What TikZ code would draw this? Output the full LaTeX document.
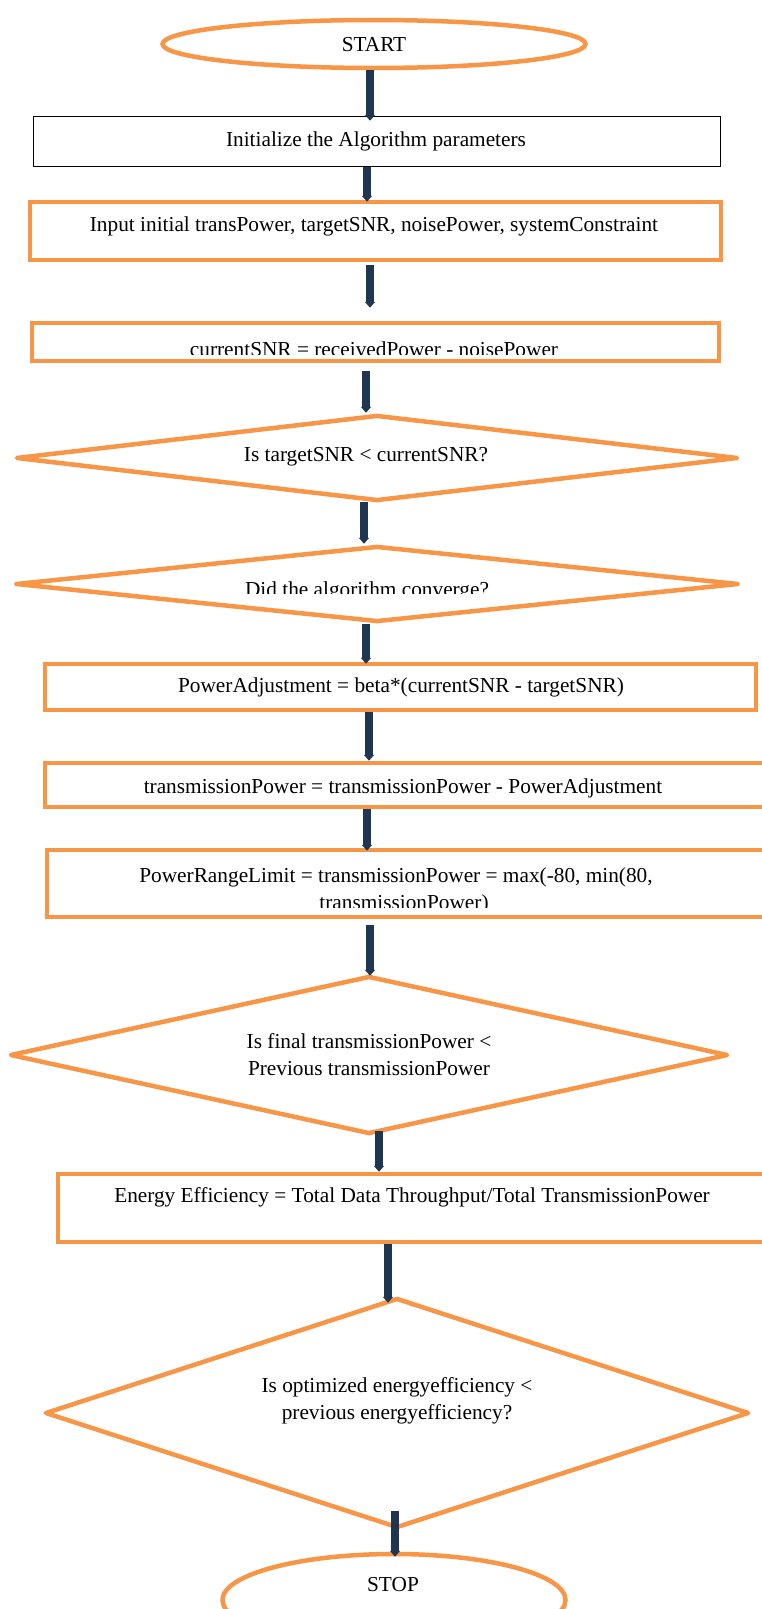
\documentclass[tikz,border=0pt]{standalone}
\usepackage{fontspec}
\setmainfont{Liberation Serif}
\usetikzlibrary{shapes.geometric,arrows.meta}
\definecolor{orng}{HTML}{F79646}
\definecolor{navy}{HTML}{1F3652}
\begin{document}
\begin{tikzpicture}[x=1pt,y=-1pt,
  obox/.style={draw=orng,line width=4.5pt,rectangle,inner sep=0pt},
  kbox/.style={draw=black,line width=1.5pt,rectangle,inner sep=0pt},
  dia/.style={draw=orng,line width=4.5pt,line join=round,diamond,inner sep=0pt},
  term/.style={draw=orng,line width=4.5pt,ellipse,inner sep=0pt},
  txt/.style={font=\fontsize{21.3}{27}\selectfont,inner sep=0pt,align=center},
  arr/.style={draw=navy,line width=7.5pt,-{Triangle[width=10pt,length=6pt]}}]
\useasboundingbox (0,0) rectangle (762,1609);
\fill[white] (0,0) rectangle (762,1609);

% shapes
\node[term,minimum width=423,minimum height=48] (start) at (374,44) {};
\node[txt] (tstart) at (374,45) {START};

\node[kbox,minimum width=687,minimum height=50] (init) at (377,141.5) {};
\node[txt] (tinit) at (376,141) {Initialize the Algorithm parameters};

\node[obox,minimum width=691,minimum height=58] (input) at (375.5,231) {};
\node[txt] (tinput) at (374,226) {Input initial transPower, targetSNR, noisePower, systemConstraint};

\node[obox,minimum width=687,minimum height=38] (csnr) at (375.5,342) {};
\begin{scope}
  \clip (30,300) rectangle (721,354);
  \node[txt,anchor=base] (tcsnr) at (374,356) {currentSNR = receivedPower - noisePower};
\end{scope}

\node[dia,minimum width=722,minimum height=86] (d1) at (377,458) {};
\node[txt] (td1) at (366,457) {Is targetSNR < currentSNR?};

\node[dia,minimum width=723,minimum height=76] (d2) at (377,584) {};
\begin{scope}
  \clip (14,540) rectangle (741,593);
  \node[txt,anchor=base] (td2) at (367,596) {Did the algorithm converge?};
\end{scope}

\node[obox,minimum width=711,minimum height=46] (padj) at (400.5,687) {};
\node[txt] (tpadj) at (401,687) {PowerAdjustment = beta*(currentSNR - targetSNR)};

\node[obox,minimum width=745,minimum height=44] (tpow) at (417.5,785) {};
\node[txt] (ttpow) at (403,788) {transmissionPower = transmissionPower - PowerAdjustment};

\node[obox,minimum width=743,minimum height=67] (prl) at (418.5,883.5) {};
\node[txt,anchor=base] (tprla) at (396,882) {PowerRangeLimit = transmissionPower = max(-80, min(80,};
\begin{scope}
  \clip (47,860) rectangle (790,907);
  \node[txt,anchor=base] (tprlb) at (404,909) {transmissionPower)};
\end{scope}

\node[dia,minimum width=718,minimum height=158] (d3) at (369,1055) {};
\node[txt] (td3) at (369,1055) {Is final transmissionPower <\\Previous transmissionPower};

\node[obox,minimum width=732,minimum height=68] (ee) at (424,1208) {};
\node[txt] (tee) at (412,1197) {Energy Efficiency = Total Data Throughput/Total TransmissionPower};

\node[dia,minimum width=704,minimum height=230] (d4) at (397,1413) {};
\node[txt] (td4) at (397,1401) {Is optimized energyefficiency <\\previous energyefficiency?};

\node[term,minimum width=343,minimum height=92] (stop) at (394,1600) {};
\node[txt] (tstop) at (393,1585) {STOP};

% connectors
\coordinate (s1) at ([xshift=-4pt]start.south);
\coordinate (s2) at ([xshift=-10pt]init.south);
\coordinate (s3) at ([xshift=-5.5pt]input.south);
\coordinate (s4) at ([xshift=-9.5pt]csnr.south);
\coordinate (s5) at ([xshift=-13pt]d1.south);
\coordinate (s6) at ([xshift=-11pt]d2.south);
\coordinate (s7) at ([xshift=-31.5pt]padj.south);
\coordinate (s8) at ([xshift=-50.5pt]tpow.south);
\coordinate (s9) at ([xshift=-48.5pt]prl.south);
\coordinate (s10) at ([xshift=10pt]d3.south);
\coordinate (s11) at ([xshift=-36pt]ee.south);
\coordinate (s12) at ([xshift=-2pt]d4.south);

\draw[arr,shorten >=-5pt] (s1) -- (s1 |- init.north);
\draw[arr,shorten >=-2pt] (s2) -- (s2 |- input.north);
\draw[arr,shorten <=3pt,shorten >=13pt] (s3) -- (s3 |- csnr.north);
\draw[arr,shorten <=8pt] (s4) -- (s4 |- d1.north);
\draw[arr,shorten <=-1pt] (s5) -- (s5 |- d2.north);
\draw[arr,shorten >=-2pt] (s6) -- (s6 |- padj.north);
\draw[arr] (s7) -- (s7 |- tpow.north);
\draw[arr,shorten >=-3pt] (s8) -- (s8 |- prl.north);
\draw[arr,shorten <=6pt,shorten >=-2pt] (s9) -- (s9 |- d3.north);
\draw[arr,shorten <=-5pt] (s10) -- (s10 |- ee.north);
\draw[arr,shorten >=-7pt] (s11) -- (s11 |- d4.north);
\draw[arr,shorten <=-19pt,shorten >=-5pt] (s12) -- (s12 |- stop.north);
\end{tikzpicture}
\end{document}
